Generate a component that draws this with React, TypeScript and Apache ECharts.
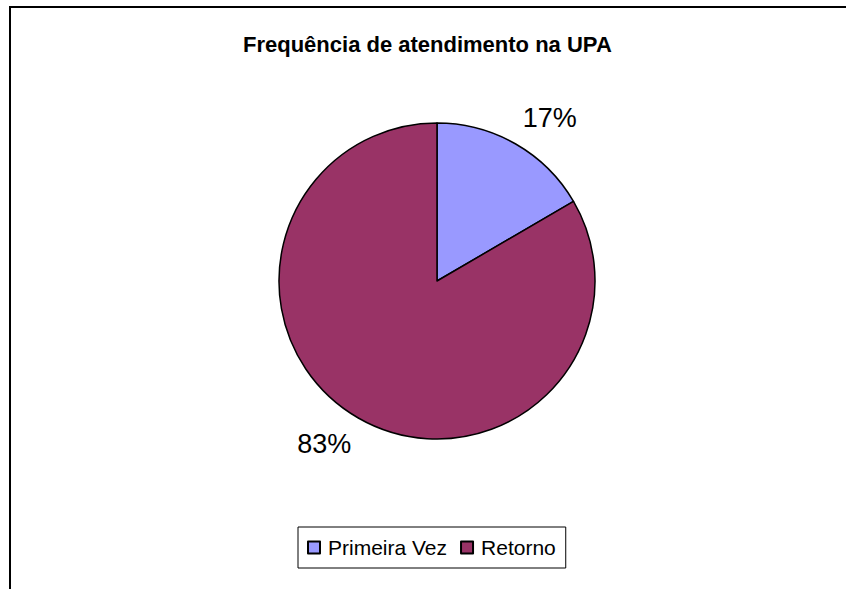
import React, { useEffect, useRef } from "react";
import * as echarts from "echarts";

const titleText = "Frequência de atendimento na UPA";
const categories = ["Primeira Vez", "Retorno"];
const values = [16.6, 83.4];
const colors = ["#9999FF", "#993366"];

const FONT = "'Liberation Sans', Arial, sans-serif";

export default function App() {
  const ref = useRef<HTMLDivElement>(null);
  useEffect(() => {
    if (!ref.current) return;
    const chart = echarts.init(ref.current, undefined, { renderer: "svg" });
    chart.setOption({
      animation: false,
      backgroundColor: "#ffffff",
      title: {
        text: titleText,
        left: 238,
        top: 28,
        textStyle: { fontFamily: FONT, fontSize: 22, fontWeight: "bold", color: "#000" },
      },
      legend: {
        data: categories,
        left: 298,
        top: 527,
        orient: "horizontal",
        icon: "rect",
        itemWidth: 12,
        itemHeight: 12,
        itemGap: 13,
        padding: [10, 10, 10, 9],
        borderColor: "#000",
        borderWidth: 1,
        textStyle: { fontFamily: FONT, fontSize: 21, color: "#000", padding: [0, 0, 0, 3] },
      },
      graphic: [
        { type: "line", shape: { x1: 9, y1: 7, x2: 846, y2: 7 }, style: { stroke: "#000", lineWidth: 2 } },
        { type: "line", shape: { x1: 10, y1: 6, x2: 10, y2: 589 }, style: { stroke: "#000", lineWidth: 2 } },
      ],
      series: [
        {
          type: "pie",
          center: [437, 281],
          radius: 158,
          startAngle: 90,
          clockwise: true,
          avoidLabelOverlap: false,
          itemStyle: { borderColor: "#000", borderWidth: 1.5 },
          label: {
            show: true,
            position: "outside",
            fontFamily: FONT,
            fontSize: 27,
            color: "#000",
            distanceToLabelLine: -8,
            formatter: (p: any) => Math.round(p.percent) + "%",
          },
          labelLine: { show: false, length: 30, length2: 0 },
          emphasis: { disabled: true },
          data: categories.map((c, i) => ({ name: c, value: values[i], itemStyle: { color: colors[i] } })),
        },
      ],
    });
    return () => chart.dispose();
  }, []);
  return <div ref={ref} style={{ position: "absolute", left: 0, top: 0, width: 846, height: 589 }} />;
}
